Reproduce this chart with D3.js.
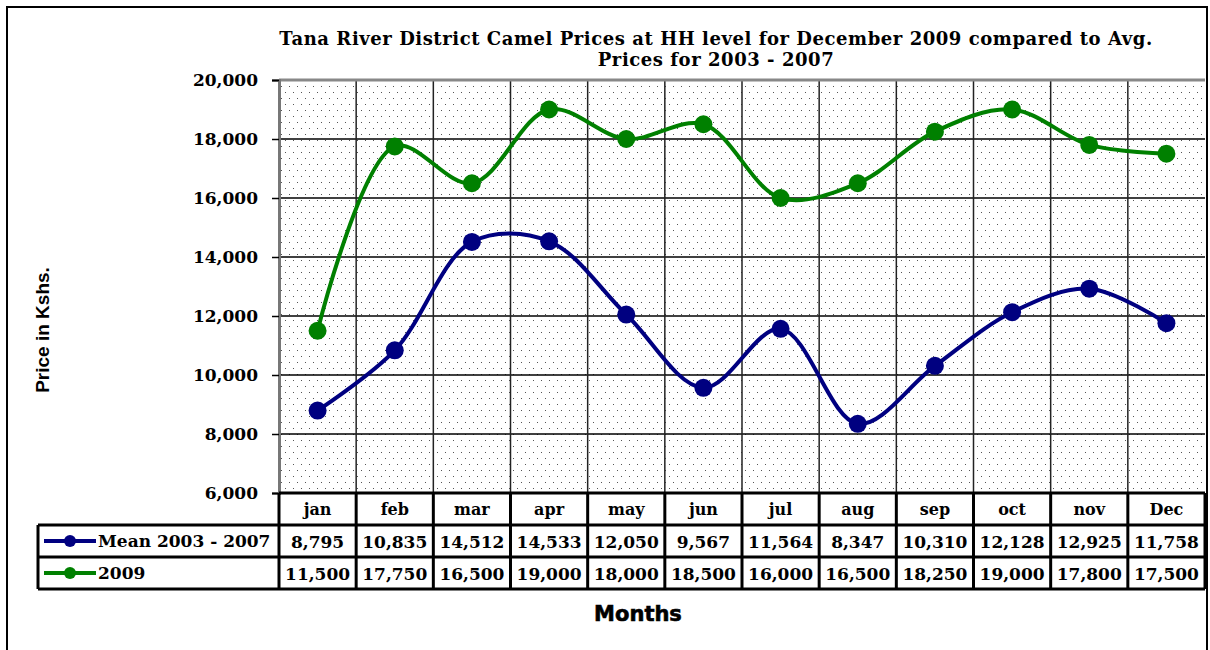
<!DOCTYPE html>
<html>
<head>
<meta charset="utf-8">
<script src="https://cdn.jsdelivr.net/npm/d3@7"></script>
<style>
body { margin: 0; background: #fff; }
svg text { font-family: "DejaVu Serif", "Liberation Serif", serif; font-weight: bold; }
</style>
</head>
<body>
<div id="chartDiv"></div>
<script>
var months = ["jan", "feb", "mar", "apr", "may", "jun", "jul", "aug", "sep", "oct", "nov", "Dec"];
var meanValues = [8795, 10835, 14512, 14533, 12050, 9567, 11564, 8347, 10310, 12128, 12925, 11758];
var values2009 = [11500, 17750, 16500, 19000, 18000, 18500, 16000, 16500, 18250, 19000, 17800, 17500];
var seriesNames = ["Mean 2003 - 2007", "2009"];
var seriesColors = ["#000080", "#008000"];
var yTicks = [6000, 8000, 10000, 12000, 14000, 16000, 18000, 20000];

var width = 1210, height = 650;
var plotLeft = 279, plotRight = 1205, plotTop = 80, plotBottom = 493;
var rowH = 32;

var svg = d3.select("#chartDiv").append("svg")
    .attr("width", width)
    .attr("height", height);

// dotted plot fill
var pat = svg.append("defs").append("pattern")
    .attr("id", "dots")
    .attr("patternUnits", "userSpaceOnUse")
    .attr("width", 8).attr("height", 12);
pat.append("rect").attr("width", 8).attr("height", 12).attr("fill", "#fff");
pat.append("rect").attr("x", 1).attr("y", 2).attr("width", 1).attr("height", 1).attr("fill", "#555");
pat.append("rect").attr("x", 5).attr("y", 8).attr("width", 1).attr("height", 1).attr("fill", "#555");

// outer frame
svg.append("rect")
    .attr("x", 7).attr("y", 7)
    .attr("width", 1200).attr("height", 660)
    .attr("fill", "none").attr("stroke", "#000").attr("stroke-width", 2);

var x = d3.scaleBand().domain(months).range([plotLeft, plotRight]);
var y = d3.scaleLinear().domain([6000, 20000]).range([plotBottom, plotTop]);

svg.append("rect")
    .attr("x", plotLeft).attr("y", plotTop)
    .attr("width", plotRight - plotLeft).attr("height", plotBottom - plotTop)
    .attr("fill", "url(#dots)");

// title
var title = svg.append("text")
    .attr("text-anchor", "middle")
    .attr("font-size", 18)
    .attr("letter-spacing", 0.55);
title.append("tspan").attr("x", 716).attr("y", 45)
    .text("Tana River District Camel Prices at HH level for December 2009 compared to Avg.");
title.append("tspan").attr("x", 716).attr("y", 66)
    .text("Prices for 2003 - 2007");

// grid lines
svg.append("g").selectAll("line")
    .data(yTicks.slice(1, -1))
    .enter().append("line")
    .attr("x1", plotLeft).attr("x2", plotRight)
    .attr("y1", function (d) { return y(d); })
    .attr("y2", function (d) { return y(d); })
    .attr("stroke", "#000").attr("stroke-width", 1.5);

svg.append("g").selectAll("line")
    .data(months.slice(1))
    .enter().append("line")
    .attr("x1", function (d) { return x(d); })
    .attr("x2", function (d) { return x(d); })
    .attr("y1", plotTop).attr("y2", plotBottom)
    .attr("stroke", "#222").attr("stroke-width", 1.5);

svg.append("line")
    .attr("x1", plotLeft).attr("x2", plotRight)
    .attr("y1", plotTop).attr("y2", plotTop)
    .attr("stroke", "#888").attr("stroke-width", 3);

// y axis
var yAxis = svg.append("g")
    .attr("transform", "translate(" + plotLeft + ",0)")
    .call(d3.axisLeft(y).tickValues(yTicks).tickSize(7).tickPadding(14)
        .tickFormat(d3.format(",")));
yAxis.select(".domain").attr("stroke", "#777").attr("stroke-width", 3);
yAxis.selectAll(".tick line").attr("stroke", "#000").attr("stroke-width", 1.5);
yAxis.selectAll("text")
    .attr("font-size", 17)
    .attr("font-family", "DejaVu Serif, serif")
    .attr("font-weight", "bold")
    .attr("fill", "#000");

svg.append("text")
    .attr("transform", "translate(49,330) rotate(-90)")
    .attr("text-anchor", "middle")
    .style("font-family", "Liberation Sans, Arial, sans-serif")
    .attr("font-size", 19)
    .text("Price in Kshs.");

svg.append("text")
    .attr("x", 638).attr("y", 621)
    .attr("text-anchor", "middle")
    .style("font-family", "DejaVu Sans, sans-serif")
    .attr("font-size", 21)
    .attr("stroke", "#000").attr("stroke-width", 0.6)
    .text("Months");

// lines
var line = d3.line()
    .x(function (d, i) { return x(months[i]) + x.bandwidth() / 2; })
    .y(function (d) { return y(d); })
    .curve(d3.curveCatmullRom.alpha(0.5));

var series = [meanValues, values2009];
series.forEach(function (vals, s) {
    svg.append("path")
        .datum(vals)
        .attr("d", line)
        .attr("fill", "none")
        .attr("stroke", seriesColors[s])
        .attr("stroke-width", 4);
    svg.append("g").selectAll("circle")
        .data(vals)
        .enter().append("circle")
        .attr("cx", function (d, i) { return x(months[i]) + x.bandwidth() / 2; })
        .attr("cy", function (d) { return y(d); })
        .attr("r", 9)
        .attr("fill", seriesColors[s]);
});

// data table
var tbl = svg.append("g");
var tableLeft = 38;
var rows = [plotBottom, plotBottom + rowH, plotBottom + 2 * rowH, plotBottom + 3 * rowH];

tbl.append("line").attr("x1", plotLeft).attr("x2", plotRight).attr("y1", rows[0]).attr("y2", rows[0])
    .attr("stroke", "#000").attr("stroke-width", 3);
[1, 2, 3].forEach(function (r) {
    tbl.append("line").attr("x1", tableLeft).attr("x2", plotRight)
        .attr("y1", rows[r]).attr("y2", rows[r])
        .attr("stroke", "#000").attr("stroke-width", 3);
});
tbl.append("line").attr("x1", tableLeft).attr("x2", tableLeft)
    .attr("y1", rows[1]).attr("y2", rows[3])
    .attr("stroke", "#000").attr("stroke-width", 3);
tbl.selectAll(".vline")
    .data(months.concat(["end"]))
    .enter().append("line")
    .attr("x1", function (d) { return d === "end" ? plotRight : x(d); })
    .attr("x2", function (d) { return d === "end" ? plotRight : x(d); })
    .attr("y1", rows[0]).attr("y2", rows[3])
    .attr("stroke", "#000").attr("stroke-width", 3);

tbl.selectAll(".mlabel")
    .data(months)
    .enter().append("text")
    .attr("x", function (d) { return x(d) + x.bandwidth() / 2; })
    .attr("y", rows[0] + 22)
    .attr("text-anchor", "middle")
    .attr("font-size", 16)
    .text(function (d) { return d; });

var fmt = d3.format(",");
series.forEach(function (vals, s) {
    var ry = rows[s + 1];
    tbl.selectAll(".v" + s)
        .data(vals)
        .enter().append("text")
        .attr("x", function (d, i) { return x(months[i]) + x.bandwidth() / 2; })
        .attr("y", ry + 23)
        .attr("text-anchor", "middle")
        .attr("font-size", 17)
        .text(function (d) { return fmt(d); });
    tbl.append("line")
        .attr("x1", 44).attr("x2", 96)
        .attr("y1", ry + 16).attr("y2", ry + 16)
        .attr("stroke", seriesColors[s]).attr("stroke-width", 4);
    tbl.append("circle")
        .attr("cx", 70).attr("cy", ry + 16).attr("r", 6)
        .attr("fill", seriesColors[s]);
    tbl.append("text")
        .attr("x", 98).attr("y", ry + 22)
        .attr("font-size", 17)
        .text(seriesNames[s]);
});
</script>
</body>
</html>
